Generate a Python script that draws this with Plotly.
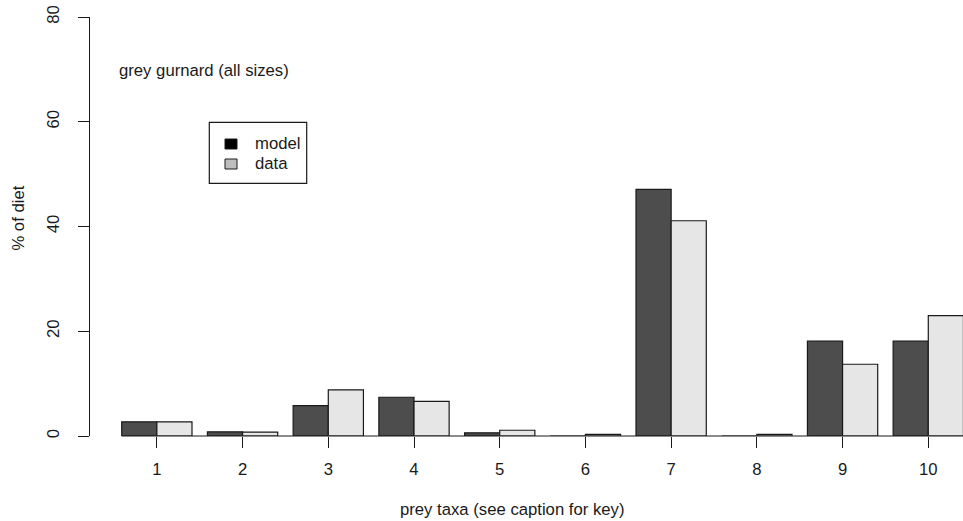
import plotly.graph_objects as go

# Diet composition of grey gurnard by prey taxon (% of diet)
prey_taxa = [1, 2, 3, 4, 5, 6, 7, 8, 9, 10]
model_pct = [2.7, 0.8, 5.8, 7.4, 0.6, 0.0, 47.1, 0.0, 18.1, 18.1]
data_pct = [2.7, 0.75, 8.8, 6.6, 1.1, 0.3, 41.1, 0.3, 13.7, 23.0]
y_ticks = [0, 20, 40, 60, 80]

FONT = "Liberation Sans, Arial, Helvetica, sans-serif"
INK = "#1a1a1a"
FS = 16.7

W, H = 963, 521
ML, MR, MT, MB = 90, 0, 17, 85
PW, PH = W - ML - MR, H - MT - MB


def px_x(p):
    return (p - ML) / PW


def px_y(p):
    return (H - MB - p) / PH


fig = go.Figure()
fig.add_trace(go.Bar(x=prey_taxa, y=model_pct, name="model",
                     marker=dict(color="#4d4d4d", line=dict(color=INK, width=1.2)),
                     showlegend=False))
fig.add_trace(go.Bar(x=prey_taxa, y=data_pct, name="data",
                     marker=dict(color="#e6e6e6", line=dict(color=INK, width=1.2)),
                     showlegend=False))

shapes = [
    # baseline under the bars
    dict(type="line", xref="x", yref="paper", x0=0.59, x1=10.6, y0=0, y1=0,
         line=dict(color=INK, width=1.2)),
    # legend box
    dict(type="rect", xref="paper", yref="paper",
         x0=px_x(209.3), x1=px_x(306.7), y0=px_y(183.3), y1=px_y(122.3),
         line=dict(color=INK, width=1.2), fillcolor="white"),
    dict(type="rect", xref="paper", yref="paper",
         x0=px_x(225), x1=px_x(237), y0=px_y(149), y1=px_y(139),
         line=dict(color=INK, width=1), fillcolor="#000000"),
    dict(type="rect", xref="paper", yref="paper",
         x0=px_x(225), x1=px_x(237), y0=px_y(169), y1=px_y(159),
         line=dict(color=INK, width=1), fillcolor="#bebebe"),
]

annotations = [
    dict(text="grey gurnard (all sizes)", xref="paper", yref="paper",
         x=px_x(116.7), y=px_y(70.5), xanchor="left", yanchor="middle",
         showarrow=False, font=dict(family=FONT, size=FS, color=INK)),
    dict(text="model", xref="paper", yref="paper",
         x=px_x(252.5), y=px_y(143.5), xanchor="left", yanchor="middle",
         showarrow=False, font=dict(family=FONT, size=FS, color=INK)),
    dict(text="data", xref="paper", yref="paper",
         x=px_x(252.5), y=px_y(163.7), xanchor="left", yanchor="middle",
         showarrow=False, font=dict(family=FONT, size=FS, color=INK)),
    dict(text="prey taxa (see caption for key)", xref="paper", yref="paper",
         x=px_x(511.7), y=px_y(510), xanchor="center", yanchor="middle",
         showarrow=False, font=dict(family=FONT, size=FS, color=INK)),
    dict(text="% of diet", xref="paper", yref="paper",
         x=px_x(19), y=px_y(218.6), xanchor="center", yanchor="middle",
         textangle=-90, showarrow=False,
         font=dict(family=FONT, size=FS, color=INK)),
]

fig.update_layout(
    width=W, height=H,
    margin=dict(l=ML, r=MR, t=MT, b=MB, pad=0),
    paper_bgcolor="white", plot_bgcolor="white",
    barmode="group", bargap=0.18, bargroupgap=0,
    font=dict(family=FONT, size=FS, color=INK),
    shapes=shapes, annotations=annotations,
)
fig.update_xaxes(
    range=[0.22, 10.405], tickmode="array", tickvals=prey_taxa,
    ticktext=[str(v) for v in prey_taxa],
    showline=False, showgrid=False, zeroline=False,
    ticks="outside", ticklen=11, tickwidth=1.2, tickcolor=INK,
    ticklabelstandoff=7, tickfont=dict(family=FONT, size=FS, color=INK),
)
fig.update_yaxes(
    range=[0, 80], tickmode="array", tickvals=y_ticks,
    showline=True, linecolor=INK, linewidth=1.2,
    showgrid=False, zeroline=False,
    ticks="outside", ticklen=11, tickwidth=1.2, tickcolor=INK,
    tickangle=-90, ticklabelstandoff=12,
    tickfont=dict(family=FONT, size=FS, color=INK),
)

fig.write_html("out.html")
